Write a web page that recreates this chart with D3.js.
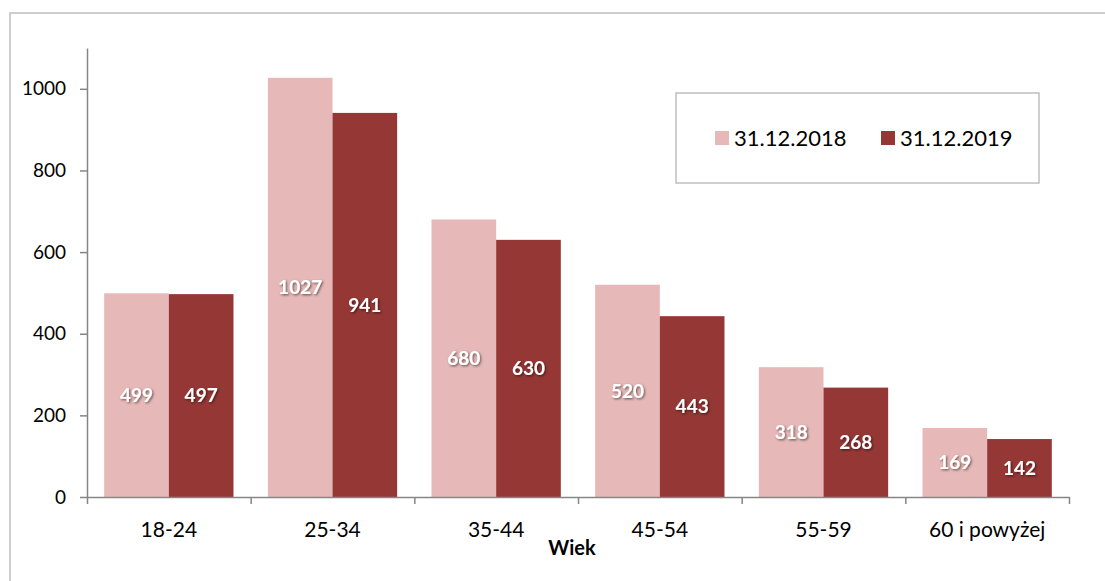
<!DOCTYPE html>
<meta charset="utf-8">
<style>
body { margin: 0; background: #fff; }
svg { font-family: Lato, "Open Sans", sans-serif; }
.axis path, .axis line { stroke: #868686; stroke-width: 1.5; }
.val { font-weight: bold; font-size: 19px; fill: #fff; }
</style>
<svg width="1105" height="581"></svg>
<script src="https://d3js.org/d3.v7.min.js"></script>
<script>

var categories = ["18-24", "25-34", "35-44", "45-54", "55-59", "60 i powyżej"];
var seriesNames = ["31.12.2018", "31.12.2019"];
var values2018 = [499, 1027, 680, 520, 318, 169];
var values2019 = [497, 941, 630, 443, 268, 142];
var yTicks = [0, 200, 400, 600, 800, 1000];
var colors = ["#e6b8b7", "#953735"];

var svg = d3.select("svg");

var plotLeft = 87, plotRight = 1069, plotTop = 48, plotBottom = 497;

// outer frame
svg.append("rect")
    .attr("x", 10).attr("y", 13)
    .attr("width", 1200).attr("height", 700)
    .attr("fill", "none")
    .attr("stroke", "#bfbfbf")
    .attr("stroke-width", 1.5);

var rows = categories.map((c, i) => ({cat: c, vals: [values2018[i], values2019[i]]}));

var x0 = d3.scaleBand()
    .domain(categories)
    .range([plotLeft, plotRight])
    .paddingInner(0.21)
    .paddingOuter(0.105);

var x1 = d3.scaleBand()
    .domain([0, 1])
    .range([0, x0.bandwidth()]);

var y = d3.scaleLinear()
    .domain([0, 1100])
    .range([plotBottom, plotTop]);

var defs = svg.append("defs");
var f = defs.append("filter").attr("id", "shadow")
    .attr("x", "-20%").attr("y", "-20%").attr("width", "140%").attr("height", "140%");
f.append("feDropShadow")
    .attr("dx", 1.2).attr("dy", 1.2)
    .attr("stdDeviation", 1)
    .attr("flood-color", "#000")
    .attr("flood-opacity", 0.55);

// bars
var group = svg.append("g").selectAll("g")
  .data(rows)
  .enter().append("g")
    .attr("transform", d => "translate(" + x0(d.cat) + ",0)");

group.selectAll("rect")
  .data(d => d.vals)
  .enter().append("rect")
    .attr("x", (d, i) => x1(i))
    .attr("y", d => y(d))
    .attr("width", x1.bandwidth())
    .attr("height", d => y(0) - y(d))
    .attr("fill", (d, i) => colors[i]);

group.selectAll("text")
  .data(d => d.vals)
  .enter().append("text")
    .attr("class", "val")
    .attr("x", (d, i) => x1(i) + x1.bandwidth() / 2)
    .attr("y", d => (y(d) + y(0)) / 2)
    .attr("dy", "0.36em")
    .attr("text-anchor", "middle")
    .attr("filter", "url(#shadow)")
    .text(d => d);

// y axis
var yAxis = svg.append("g")
    .attr("class", "axis")
    .attr("transform", "translate(" + plotLeft + ",0)")
    .call(d3.axisLeft(y).tickValues(yTicks).tickFormat(d3.format("d"))
        .tickSize(7).tickSizeOuter(0).tickPadding(14));
yAxis.selectAll("text")
    .attr("font-size", 19)
    .attr("fill", "#000")
    .attr("font-family", "Lato, sans-serif");

// x axis: boundary ticks
var xb = d3.scaleLinear().domain([0, categories.length]).range([plotLeft, plotRight]);
svg.append("g")
    .attr("class", "axis")
    .attr("transform", "translate(0," + plotBottom + ")")
    .call(d3.axisBottom(xb).tickValues(d3.range(categories.length + 1)).tickSize(7).tickSizeOuter(0).tickFormat(""));

svg.append("g").selectAll("text")
  .data(categories)
  .enter().append("text")
    .attr("x", d => x0(d) + x0.bandwidth() / 2)
    .attr("y", 537)
    .attr("text-anchor", "middle")
    .attr("font-size", 21)
    .attr("fill", "#000")
    .text(d => d);

svg.append("text")
    .attr("x", (plotLeft + plotRight) / 2 - 6)
    .attr("y", 555)
    .attr("text-anchor", "middle")
    .attr("font-size", 20)
    .attr("font-weight", "bold")
    .text("Wiek");

// legend
var legend = svg.append("g");
legend.append("rect")
    .attr("x", 676).attr("y", 93)
    .attr("width", 363).attr("height", 90)
    .attr("fill", "#fff")
    .attr("stroke", "#bfbfbf")
    .attr("stroke-width", 1.5);

var legX = [715, 881];
var item = legend.selectAll(".item")
  .data(seriesNames)
  .enter().append("g")
    .attr("class", "item")
    .attr("transform", (d, i) => "translate(" + legX[i] + ",131)");
item.append("rect")
    .attr("width", 14).attr("height", 14)
    .attr("fill", (d, i) => colors[i]);
item.append("text")
    .attr("x", 19)
    .attr("y", 15)
    .attr("font-size", 22)
    .text(d => d);

</script>
